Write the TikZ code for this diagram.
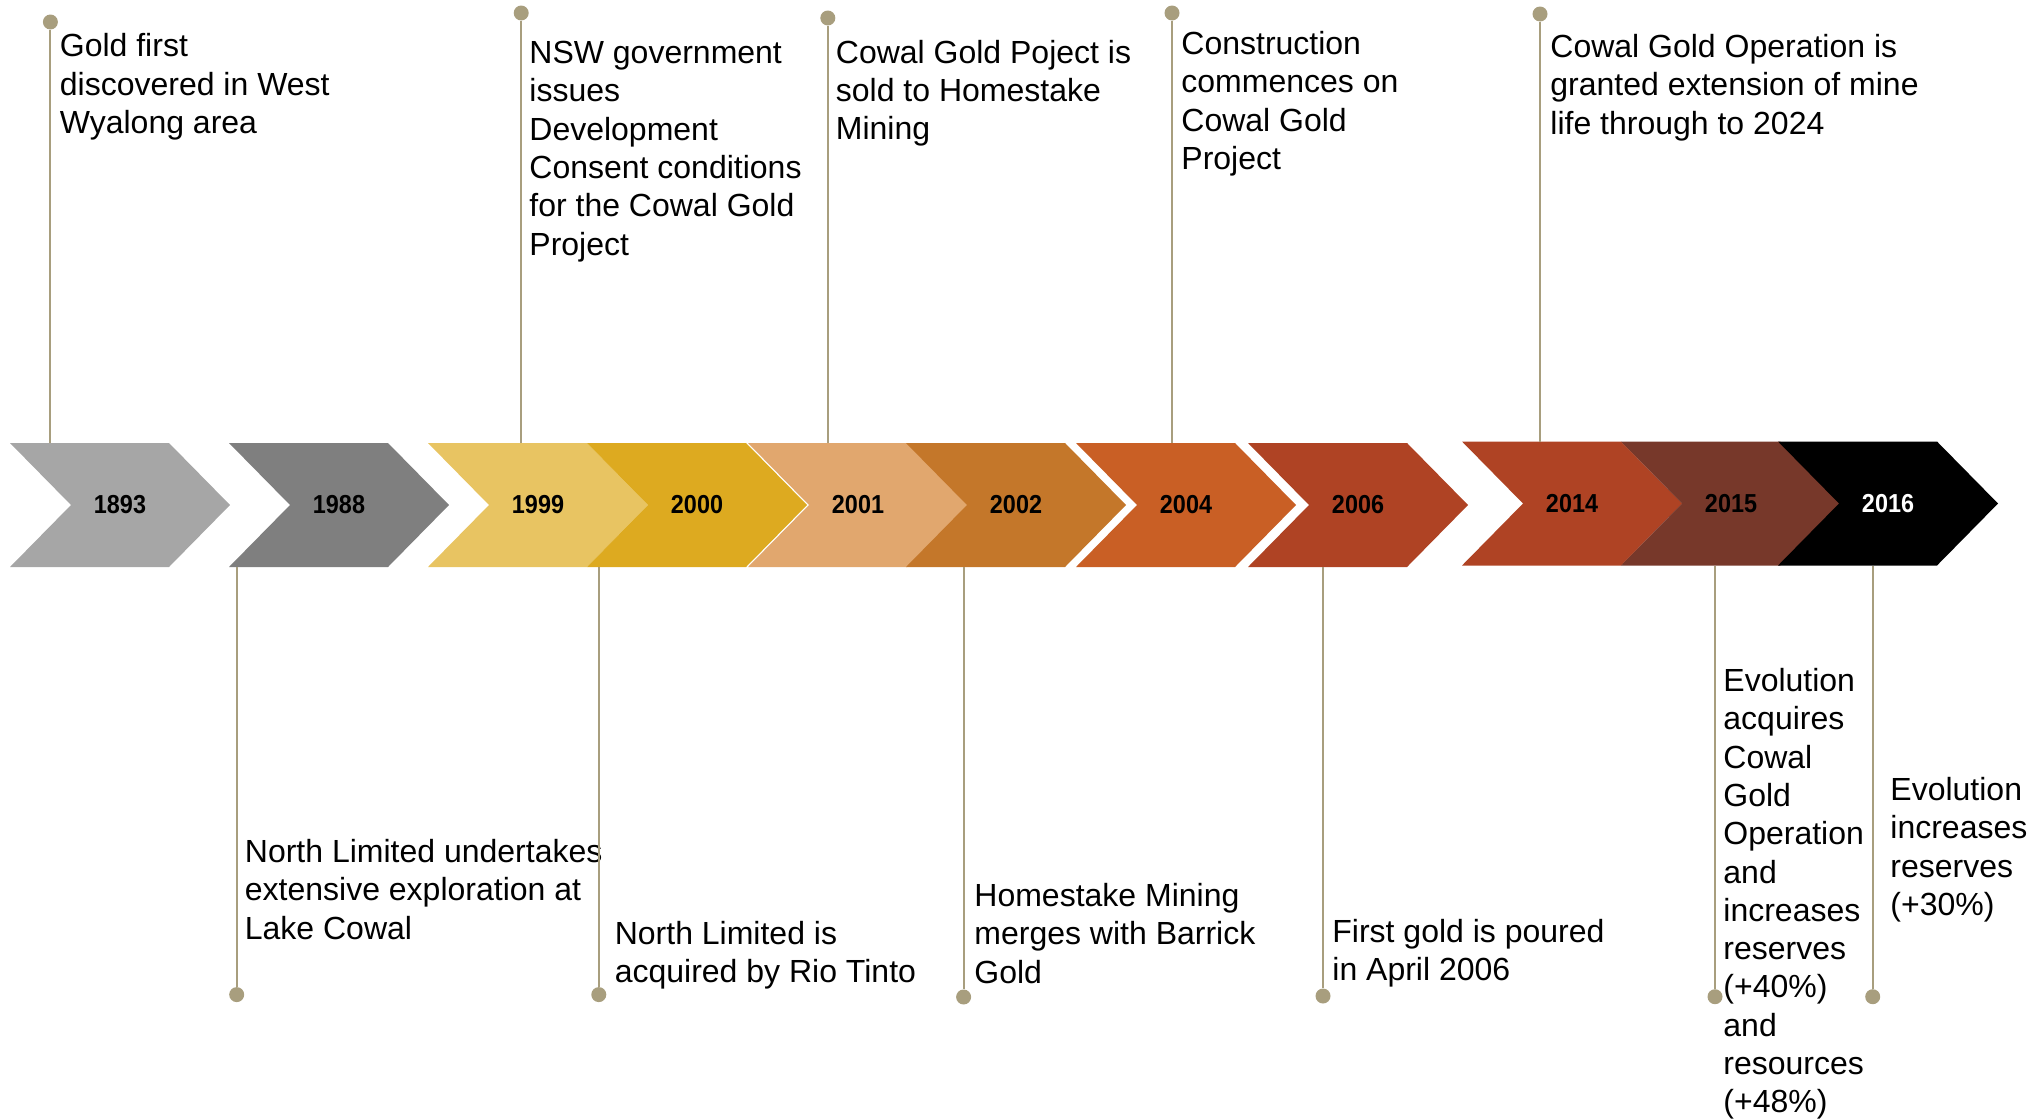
\documentclass[tikz,border=0pt]{standalone}
\usepackage{fontspec}
\setmainfont{Liberation Sans}
\newfontfamily\yearfont[FakeStretch=0.9]{Liberation Sans}
\definecolor{c1893}{RGB}{166,166,166}
\definecolor{c1988}{RGB}{127,127,127}
\definecolor{c1999}{RGB}{232,196,98}
\definecolor{c2000}{RGB}{221,170,32}
\definecolor{c2001}{RGB}{225,167,110}
\definecolor{c2002}{RGB}{196,119,42}
\definecolor{c2004}{RGB}{201,95,37}
\definecolor{c2006}{RGB}{175,67,36}
\definecolor{c2014}{RGB}{175,67,36}
\definecolor{c2015}{RGB}{119,56,42}
\definecolor{c2016}{RGB}{0,0,0}
\definecolor{linec}{RGB}{168,158,126}
\newcommand{\mychev}[6]{%
  \fill[#3] (#1,#2) -- ++(159,0) -- ++(61,62) -- ++(-61,62) -- ++(-159,0) -- ++(61,-62) -- cycle;
  \node[yearlbl, text=#6] (#4) at (#1+110,#2+62) {#5};
}
\newcommand{\lines}[1]{\begin{tabular}[t]{@{}l@{}}#1\end{tabular}}
\tikzset{
  conn/.style={draw=linec, line width=1pt},
  dotnode/.style={circle, fill=linec, inner sep=0pt, minimum size=7.5pt},
  yearlbl/.style={font=\yearfont\bfseries\fontsize{13}{15}\selectfont, inner sep=0pt},
  desc/.style={anchor=base west, inner sep=0pt, font=\fontsize{16}{19.15}\selectfont},
}
\begin{document}
\begin{tikzpicture}[x=0.5pt,y=-0.5pt]
\useasboundingbox (0,0) rectangle (2028,1119);
% chevrons
\mychev{10}{443}{c1893}{y1893}{1893}{black}
\mychev{229}{443}{c1988}{y1988}{1988}{black}
\mychev{428}{443}{c1999}{y1999}{1999}{black}
\mychev{587}{443}{c2000}{y2000}{2000}{black}
\mychev{748}{443}{c2001}{y2001}{2001}{black}
\mychev{906}{443}{c2002}{y2002}{2002}{black}
\mychev{1076}{443}{c2004}{y2004}{2004}{black}
\mychev{1248}{443}{c2006}{y2006}{2006}{black}
\mychev{1462}{441.5}{c2014}{y2014}{2014}{black}
\mychev{1621}{441.5}{c2015}{y2015}{2015}{black}
\mychev{1778}{441.5}{c2016}{y2016}{2016}{white}

% top callouts
\node[dotnode] (p1893) at (50.4,22) {};
\coordinate (a1893) at (50.4,443);
\draw[conn] (p1893) -- (a1893);
\node[desc] (t1893) at (59.5,56.8) {\lines{Gold first\\discovered in West\\Wyalong area}};

\node[dotnode] (p1999) at (521.2,13) {};
\coordinate (a1999) at (521.2,443);
\draw[conn] (p1999) -- (a1999);
\node[desc] (t1999) at (529,63.5) {\lines{NSW government\\issues\\Development\\Consent conditions\\for the Cowal Gold\\Project}};

\node[dotnode] (p2001) at (827.8,18) {};
\coordinate (a2001) at (827.8,443);
\draw[conn] (p2001) -- (a2001);
\node[desc] (t2001) at (835.5,63.2) {\lines{Cowal Gold Poject is\\sold to Homestake\\Mining}};

\node[dotnode] (p2004) at (1172,13) {};
\coordinate (a2004) at (1172,443);
\draw[conn] (p2004) -- (a2004);
\node[desc] (t2004) at (1181,54.5) {\lines{Construction\\commences on\\Cowal Gold\\Project}};

\node[dotnode] (p2014) at (1540,14) {};
\coordinate (a2014) at (1540,441.5);
\draw[conn] (p2014) -- (a2014);
\node[desc] (t2014) at (1550,57.5) {\lines{Cowal Gold Operation is\\granted extension of mine\\life through to 2024}};

% bottom callouts
\node[dotnode] (p1988) at (236.7,994.6) {};
\coordinate (a1988) at (236.7,567);
\draw[conn] (a1988) -- (p1988);
\node[desc] (t1988) at (244.5,862.5) {\lines{North Limited undertakes\\extensive exploration at\\Lake Cowal}};

\node[dotnode] (p2000) at (598.8,994.6) {};
\coordinate (a2000) at (598.8,567);
\draw[conn] (a2000) -- (p2000);
\node[desc] (t2000) at (614.4,944) {\lines{North Limited is\\acquired by Rio Tinto}};

\node[dotnode] (p2002) at (963.6,997) {};
\coordinate (a2002) at (963.6,567);
\draw[conn] (a2002) -- (p2002);
\node[desc] (t2002) at (974,906.5) {\lines{Homestake Mining\\merges with Barrick\\Gold}};

\node[dotnode] (p2006) at (1323,996) {};
\coordinate (a2006) at (1323,567);
\draw[conn] (a2006) -- (p2006);
\node[desc] (t2006) at (1332,942.5) {\lines{First gold is poured\\in April 2006}};

\node[dotnode] (p2015) at (1715,996.7) {};
\coordinate (a2015) at (1715,565.5);
\draw[conn] (a2015) -- (p2015);
\node[desc] (t2015) at (1723,691.5) {\lines{Evolution\\acquires\\Cowal\\Gold\\Operation\\and\\increases\\reserves\\(+40\%)\\and\\resources\\(+48\%)}};

\node[dotnode] (p2016) at (1872.7,996.7) {};
\coordinate (a2016) at (1872.7,565.5);
\draw[conn] (a2016) -- (p2016);
\node[desc] (t2016) at (1890,800.5) {\lines{Evolution\\increases\\reserves\\(+30\%)}};
\end{tikzpicture}
\end{document}
